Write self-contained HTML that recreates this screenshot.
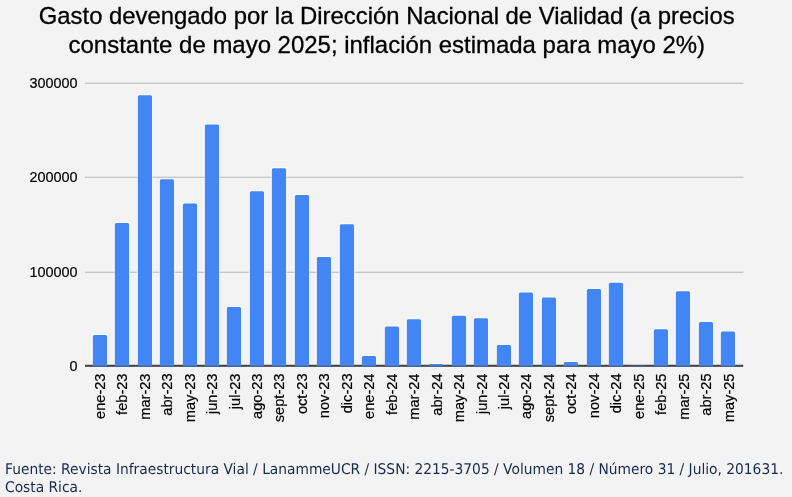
<!DOCTYPE html>
<html lang="es">
<head>
<meta charset="utf-8">
<title>Gasto devengado por la Dirección Nacional de Vialidad</title>
<style>
html,body{margin:0;padding:0;}
body{width:792px;height:497px;background:#f3f3f3;overflow:hidden;position:relative;font-family:"Liberation Sans",Arial,sans-serif;}
#chart{position:absolute;left:0;top:0;width:792px;height:440px;}
#chart text{font-family:"Liberation Sans",Arial,sans-serif;}
.title{font-size:23.9px;fill:#000;stroke:#000;stroke-width:0.3px;}
.ax{font-size:14px;fill:#000;}
.ay{font-size:14.4px;fill:#000;stroke:#000;stroke-width:0.2px;}
.axx{font-size:14.6px;fill:#000;stroke:#000;stroke-width:0.2px;}
#foot{position:absolute;left:5.2px;top:461.2px;width:860px;text-rendering:geometricPrecision;font-family:"DejaVu Sans","Liberation Sans",sans-serif;font-size:14.7px;line-height:17.7px;color:#18294d;white-space:nowrap;transform:scaleX(0.9391);transform-origin:0 0;}
</style>
</head>
<body>
<svg id="chart" width="792" height="440" viewBox="0 0 792 440">
<text class="title" style="font-size:23.86px" x="386.7" y="23.5" text-anchor="middle">Gasto devengado por la Dirección Nacional de Vialidad (a precios</text>
<text class="title" style="font-size:23.96px" x="386.8" y="52.5" text-anchor="middle">constante de mayo 2025; inflación estimada para mayo 2%)</text>
<g stroke="#b6b6b6" stroke-width="1.1">
<line x1="85" y1="83.3" x2="743.4" y2="83.3"/>
<line x1="85" y1="177.3" x2="743.4" y2="177.3"/>
<line x1="85" y1="272.2" x2="743.4" y2="272.2"/>
</g>
<g class="ay" text-anchor="end">
<text x="77.5" y="87.9">300000</text>
<text x="77.5" y="181.9">200000</text>
<text x="77.5" y="276.8">100000</text>
<text x="77.5" y="370.8">0</text>
</g>
<clipPath id="cp"><rect x="80" y="70" width="670" height="294.8"/></clipPath>
<g clip-path="url(#cp)" fill="#4285f4" stroke="#ffffff" stroke-opacity="0.5" stroke-width="2.4" paint-order="stroke" stroke-linejoin="round">
<path d="M92.85 366.7 V336.50 Q92.85 335.00 94.35 335.00 H105.55 Q107.05 335.00 107.05 336.50 V366.7 Z"/>
<path d="M114.85 366.7 V224.40 Q114.85 222.90 116.35 222.90 H127.55 Q129.05 222.90 129.05 224.40 V366.7 Z"/>
<path d="M137.85 366.7 V96.80 Q137.85 95.30 139.35 95.30 H150.55 Q152.05 95.30 152.05 96.80 V366.7 Z"/>
<path d="M159.85 366.7 V180.70 Q159.85 179.20 161.35 179.20 H172.55 Q174.05 179.20 174.05 180.70 V366.7 Z"/>
<path d="M182.85 366.7 V204.90 Q182.85 203.40 184.35 203.40 H195.55 Q197.05 203.40 197.05 204.90 V366.7 Z"/>
<path d="M204.85 366.7 V125.90 Q204.85 124.40 206.35 124.40 H217.55 Q219.05 124.40 219.05 125.90 V366.7 Z"/>
<path d="M226.85 366.7 V308.50 Q226.85 307.00 228.35 307.00 H239.55 Q241.05 307.00 241.05 308.50 V366.7 Z"/>
<path d="M249.85 366.7 V192.80 Q249.85 191.30 251.35 191.30 H262.55 Q264.05 191.30 264.05 192.80 V366.7 Z"/>
<path d="M271.85 366.7 V169.80 Q271.85 168.30 273.35 168.30 H284.55 Q286.05 168.30 286.05 169.80 V366.7 Z"/>
<path d="M294.85 366.7 V196.50 Q294.85 195.00 296.35 195.00 H307.55 Q309.05 195.00 309.05 196.50 V366.7 Z"/>
<path d="M316.85 366.7 V258.60 Q316.85 257.10 318.35 257.10 H329.55 Q331.05 257.10 331.05 258.60 V366.7 Z"/>
<path d="M339.85 366.7 V225.70 Q339.85 224.20 341.35 224.20 H352.55 Q354.05 224.20 354.05 225.70 V366.7 Z"/>
<path d="M361.85 366.7 V357.60 Q361.85 356.10 363.35 356.10 H374.55 Q376.05 356.10 376.05 357.60 V366.7 Z"/>
<path d="M384.85 366.7 V328.00 Q384.85 326.50 386.35 326.50 H397.55 Q399.05 326.50 399.05 328.00 V366.7 Z"/>
<path d="M406.85 366.7 V320.70 Q406.85 319.20 408.35 319.20 H419.55 Q421.05 319.20 421.05 320.70 V366.7 Z"/>
<path d="M428.85 366.7 V365.60 Q428.85 364.10 430.35 364.10 H441.55 Q443.05 364.10 443.05 365.60 V366.7 Z"/>
<path d="M451.85 366.7 V317.20 Q451.85 315.70 453.35 315.70 H464.55 Q466.05 315.70 466.05 317.20 V366.7 Z"/>
<path d="M473.85 366.7 V319.70 Q473.85 318.20 475.35 318.20 H486.55 Q488.05 318.20 488.05 319.70 V366.7 Z"/>
<path d="M496.85 366.7 V346.50 Q496.85 345.00 498.35 345.00 H509.55 Q511.05 345.00 511.05 346.50 V366.7 Z"/>
<path d="M518.85 366.7 V293.90 Q518.85 292.40 520.35 292.40 H531.55 Q533.05 292.40 533.05 293.90 V366.7 Z"/>
<path d="M541.85 366.7 V299.00 Q541.85 297.50 543.35 297.50 H554.55 Q556.05 297.50 556.05 299.00 V366.7 Z"/>
<path d="M563.85 366.7 V363.40 Q563.85 361.90 565.35 361.90 H576.55 Q578.05 361.90 578.05 363.40 V366.7 Z"/>
<path d="M586.85 366.7 V290.40 Q586.85 288.90 588.35 288.90 H599.55 Q601.05 288.90 601.05 290.40 V366.7 Z"/>
<path d="M608.85 366.7 V284.30 Q608.85 282.80 610.35 282.80 H621.55 Q623.05 282.80 623.05 284.30 V366.7 Z"/>
<path d="M630.85 366.7 V366.70 Q630.85 365.20 632.35 365.20 H643.55 Q645.05 365.20 645.05 366.70 V366.7 Z" fill-opacity="0.45"/>
<path d="M653.85 366.7 V330.80 Q653.85 329.30 655.35 329.30 H666.55 Q668.05 329.30 668.05 330.80 V366.7 Z"/>
<path d="M675.85 366.7 V292.70 Q675.85 291.20 677.35 291.20 H688.55 Q690.05 291.20 690.05 292.70 V366.7 Z"/>
<path d="M698.85 366.7 V323.50 Q698.85 322.00 700.35 322.00 H711.55 Q713.05 322.00 713.05 323.50 V366.7 Z"/>
<path d="M720.85 366.7 V333.10 Q720.85 331.60 722.35 331.60 H733.55 Q735.05 331.60 735.05 333.10 V366.7 Z"/>
</g>
<line x1="85" y1="365.8" x2="743.2" y2="365.8" stroke="#4a4a4a" stroke-width="2"/>
<g fill="#4285f4">
<rect x="92.85" y="364.60" width="14.2" height="2.10"/>
<rect x="114.85" y="364.60" width="14.2" height="2.10"/>
<rect x="137.85" y="364.60" width="14.2" height="2.10"/>
<rect x="159.85" y="364.60" width="14.2" height="2.10"/>
<rect x="182.85" y="364.60" width="14.2" height="2.10"/>
<rect x="204.85" y="364.60" width="14.2" height="2.10"/>
<rect x="226.85" y="364.60" width="14.2" height="2.10"/>
<rect x="249.85" y="364.60" width="14.2" height="2.10"/>
<rect x="271.85" y="364.60" width="14.2" height="2.10"/>
<rect x="294.85" y="364.60" width="14.2" height="2.10"/>
<rect x="316.85" y="364.60" width="14.2" height="2.10"/>
<rect x="339.85" y="364.60" width="14.2" height="2.10"/>
<rect x="361.85" y="364.60" width="14.2" height="2.10"/>
<rect x="384.85" y="364.60" width="14.2" height="2.10"/>
<rect x="406.85" y="364.60" width="14.2" height="2.10"/>
<rect x="428.85" y="364.60" width="14.2" height="2.10"/>
<rect x="451.85" y="364.60" width="14.2" height="2.10"/>
<rect x="473.85" y="364.60" width="14.2" height="2.10"/>
<rect x="496.85" y="364.60" width="14.2" height="2.10"/>
<rect x="518.85" y="364.60" width="14.2" height="2.10"/>
<rect x="541.85" y="364.60" width="14.2" height="2.10"/>
<rect x="563.85" y="364.60" width="14.2" height="2.10"/>
<rect x="586.85" y="364.60" width="14.2" height="2.10"/>
<rect x="608.85" y="364.60" width="14.2" height="2.10"/>
<rect x="630.85" y="365.20" width="14.2" height="1.50" fill-opacity="0.45"/>
<rect x="653.85" y="364.60" width="14.2" height="2.10"/>
<rect x="675.85" y="364.60" width="14.2" height="2.10"/>
<rect x="698.85" y="364.60" width="14.2" height="2.10"/>
<rect x="720.85" y="364.60" width="14.2" height="2.10"/>
</g>
<line x1="85" y1="366.2" x2="743.2" y2="366.2" stroke="#333333" stroke-opacity="0.4" stroke-width="1.2"/>
<g class="axx" text-anchor="end">
<text transform="translate(104.75 373.5) rotate(-90)">ene-23</text>
<text transform="translate(127.21 373.5) rotate(-90)">feb-23</text>
<text transform="translate(149.67 373.5) rotate(-90)">mar-23</text>
<text transform="translate(172.13 373.5) rotate(-90)">abr-23</text>
<text transform="translate(194.59 373.5) rotate(-90)">may-23</text>
<text transform="translate(217.05 373.5) rotate(-90)">jun-23</text>
<text transform="translate(239.51 373.5) rotate(-90)">jul-23</text>
<text transform="translate(261.97 373.5) rotate(-90)">ago-23</text>
<text transform="translate(284.43 373.5) rotate(-90)">sept-23</text>
<text transform="translate(306.89 373.5) rotate(-90)">oct-23</text>
<text transform="translate(329.35 373.5) rotate(-90)">nov-23</text>
<text transform="translate(351.81 373.5) rotate(-90)">dic-23</text>
<text transform="translate(374.27 373.5) rotate(-90)">ene-24</text>
<text transform="translate(396.73 373.5) rotate(-90)">feb-24</text>
<text transform="translate(419.19 373.5) rotate(-90)">mar-24</text>
<text transform="translate(441.65 373.5) rotate(-90)">abr-24</text>
<text transform="translate(464.11 373.5) rotate(-90)">may-24</text>
<text transform="translate(486.57 373.5) rotate(-90)">jun-24</text>
<text transform="translate(509.03 373.5) rotate(-90)">jul-24</text>
<text transform="translate(531.49 373.5) rotate(-90)">ago-24</text>
<text transform="translate(553.95 373.5) rotate(-90)">sept-24</text>
<text transform="translate(576.41 373.5) rotate(-90)">oct-24</text>
<text transform="translate(598.87 373.5) rotate(-90)">nov-24</text>
<text transform="translate(621.33 373.5) rotate(-90)">dic-24</text>
<text transform="translate(643.79 373.5) rotate(-90)">ene-25</text>
<text transform="translate(666.25 373.5) rotate(-90)">feb-25</text>
<text transform="translate(688.71 373.5) rotate(-90)">mar-25</text>
<text transform="translate(711.17 373.5) rotate(-90)">abr-25</text>
<text transform="translate(733.63 373.5) rotate(-90)">may-25</text>
</g>
</svg>
<div id="foot">Fuente: Revista Infraestructura Vial / LanammeUCR / ISSN: 2215-3705 / Volumen 18 / Número 31 / Julio, 201631.<br>Costa Rica.</div>
</body>
</html>
